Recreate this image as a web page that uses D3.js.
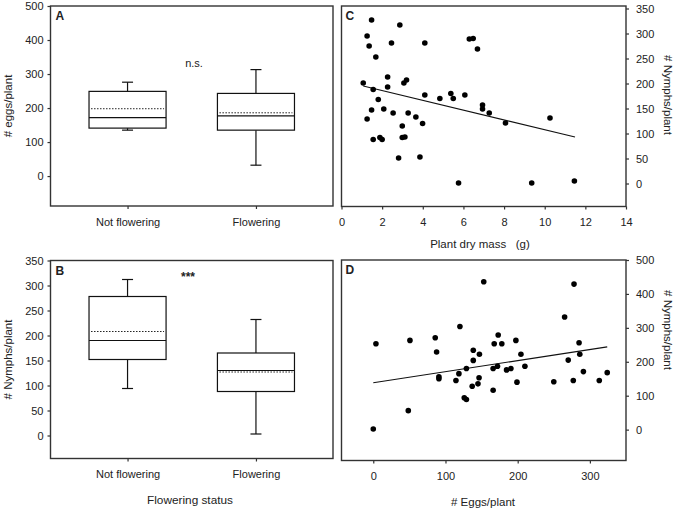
<!DOCTYPE html>
<html><head><meta charset="utf-8">
<script src="https://cdn.jsdelivr.net/npm/d3@7"></script>
<style>
body{margin:0;background:#fff;}
text{font-family:"Liberation Sans",Arial,sans-serif;fill:#222;}
</style></head><body>
<svg id="chart" width="678" height="510"></svg>
<script>
// ---------- data ----------
const categories = ["Not flowering", "Flowering"];
// Panel A: eggs per plant
const eggsWhiskerLow  = [135, 32];
const eggsQ1          = [141, 135];
const eggsMedian      = [172, 177];
const eggsMean        = [198, 186];
const eggsQ3          = [249, 243];
const eggsWhiskerHigh = [276, 313];
// Panel B: nymphs per plant
const nymphWhiskerLow  = [94, 3];
const nymphQ1          = [152, 88];
const nymphMedian      = [190, 130];
const nymphMean        = [208, 127];
const nymphQ3          = [278, 165];
const nymphWhiskerHigh = [312, 232];
// Panel C: plant dry mass (g) vs nymphs/plant
const massX = [1.48,1.26,1.36,2.87,2.46,4.10,1.69,6.29,6.48,6.69,1.07,2.27,2.27,3.07,3.20,1.56,1.81,4.10,4.84,5.38,5.50,6.07,6.94,6.94,7.27,8.07,10.26,1.48,2.08,1.26,2.54,3.28,3.66,2.99,3.99,1.56,1.89,2.00,2.99,3.12,2.81,3.86,5.76,9.36,11.46];
const massNymphs = [327,295,275,317,281,281,253,289,290,269,201,213,193,201,207,188,168,177,170,180,170,177,157,149,141,121,131,147,149,129,141,141,133,115,120,88,92,88,92,93,51,53,1,1,5];
const trendCX = [1.07, 11.49];
const trendCY = [195, 93];
// Panel D: eggs/plant vs nymphs/plant
const eggsX = [0,3.7,50.8,48.5,85.8,87.7,90.9,90.9,120,118.6,114.5,129,138.5,138.5,147,146.5,145,137,126,129,153,167.5,173,178,166,172,166,184.6,190.6,197.5,204.5,210,199,250,265,278,270,285,286,291,277,313,324];
const eggsNymphs = [2,253,263,56,271,229,156,150,304,165,145,180,234,204,222,153,135,128,94,89,436,253,279,253,180,187,116,176,180,263,222,187,140,141,332,429,205,256,222,171,145,145,168];
const trendDX = [0, 324];
const trendDY = [138, 244];
// tick values
const ticksA = [0,100,200,300,400,500];
const ticksB = [0,50,100,150,200,250,300,350];
const ticksCX = [0,2,4,6,8,10,12,14];
const ticksCY = [0,50,100,150,200,250,300,350];
const ticksDX = [0,100,200,300];
const ticksDY = [0,100,200,300,400,500];

// ---------- drawing ----------
const svg = d3.select("#chart");
const frameColor = "#333";

function frame(x0,x1,y0,y1){
  svg.append("rect").attr("x",x0).attr("y",y0).attr("width",x1-x0).attr("height",y1-y0)
    .attr("fill","none").attr("stroke",frameColor).attr("stroke-width",1.4);
}
function styleAxis(g){
  g.select(".domain").remove();
  g.selectAll(".tick line").attr("stroke",frameColor).attr("stroke-width",1.2);
  g.selectAll(".tick text").attr("fill","#222").style("font-size","11px")
    .style("font-family","'Liberation Sans',Arial,sans-serif");
}

function boxPanel(cfg){
  const {x0,x1,y0,y1,ydom,ticks,low,q1,med,mean,q3,high,letter,ylabel} = cfg;
  const x = d3.scaleLinear().domain([0.4,2.6]).range([x0,x1]);
  const y = d3.scaleLinear().domain(ydom).range([y1,y0]);
  frame(x0,x1,y0,y1);
  svg.append("g").attr("transform",`translate(${x0},0)`)
    .call(d3.axisLeft(y).tickValues(ticks).tickSize(3).tickPadding(4)).call(styleAxis);
  svg.append("g").attr("transform",`translate(0,${y1})`)
    .call(d3.axisBottom(x).tickValues([1,2]).tickFormat((d,i)=>categories[i]).tickSize(3).tickPadding(9))
    .call(styleAxis);
  const g = svg.append("g");
  categories.forEach((c,i)=>{
    const cx = x(i+1), hw = x(1.3)-x(1), cap = 5.5;
    g.append("line").attr("x1",cx).attr("x2",cx).attr("y1",y(q3[i])).attr("y2",y(high[i])).attr("stroke","#111").attr("stroke-width",1.2);
    g.append("line").attr("x1",cx).attr("x2",cx).attr("y1",y(q1[i])).attr("y2",y(low[i])).attr("stroke","#111").attr("stroke-width",1.2);
    g.append("line").attr("x1",cx-cap).attr("x2",cx+cap).attr("y1",y(high[i])).attr("y2",y(high[i])).attr("stroke","#111").attr("stroke-width",1.2);
    g.append("line").attr("x1",cx-cap).attr("x2",cx+cap).attr("y1",y(low[i])).attr("y2",y(low[i])).attr("stroke","#111").attr("stroke-width",1.2);
    g.append("rect").attr("x",cx-hw).attr("width",2*hw).attr("y",y(q3[i])).attr("height",y(q1[i])-y(q3[i]))
      .attr("fill","#fff").attr("stroke","#111").attr("stroke-width",1.2);
    g.append("line").attr("x1",cx-hw).attr("x2",cx+hw).attr("y1",y(med[i])).attr("y2",y(med[i])).attr("stroke","#111").attr("stroke-width",1.2);
    g.append("line").attr("x1",cx-hw+2).attr("x2",cx+hw-2).attr("y1",y(mean[i])).attr("y2",y(mean[i]))
      .attr("stroke","#222").attr("stroke-width",1).attr("stroke-dasharray","1.5,1.5");
  });
  svg.append("text").attr("x",x0+5).attr("y",y0+14).style("font-size","12px").style("font-weight","bold").text(letter);
  svg.append("text").attr("transform",`translate(12,${(y0+y1)/2}) rotate(-90)`).attr("text-anchor","middle")
    .style("font-size","11.5px").text(ylabel);
  return {x,y};
}

boxPanel({x0:50.5,x1:333,y0:6,y1:206,ydom:[-88,500],ticks:ticksA,
  low:eggsWhiskerLow,q1:eggsQ1,med:eggsMedian,mean:eggsMean,q3:eggsQ3,high:eggsWhiskerHigh,letter:"A",ylabel:"# eggs/plant"});
svg.append("text").attr("x",194).attr("y",67).attr("text-anchor","middle").style("font-size","11px").text("n.s.");

boxPanel({x0:50.5,x1:333,y0:260.5,y1:458.5,ydom:[-46,350],ticks:ticksB,
  low:nymphWhiskerLow,q1:nymphQ1,med:nymphMedian,mean:nymphMean,q3:nymphQ3,high:nymphWhiskerHigh,letter:"B",ylabel:"# Nymphs/plant"});
svg.append("text").attr("x",188).attr("y",281).attr("text-anchor","middle").style("font-size","12px").style("font-weight","bold").text("***");
svg.append("text").attr("x",190).attr("y",504).attr("text-anchor","middle").style("font-size","11.8px").text("Flowering status");

function scatterPanel(cfg){
  const {x0,x1,y0,y1,xdom,ydom,xt,yt,xs,ys,tx,ty,letter,xlabel,xlabelX,xlabelY,ylabelY} = cfg;
  const x = d3.scaleLinear().domain(xdom).range([x0,x1]);
  const y = d3.scaleLinear().domain(ydom).range([y1,y0]);
  frame(x0,x1,y0,y1);
  svg.append("g").attr("transform",`translate(${x1},0)`)
    .call(d3.axisRight(y).tickValues(yt).tickSize(3).tickPadding(7)).call(styleAxis);
  svg.append("g").attr("transform",`translate(0,${y1})`)
    .call(d3.axisBottom(x).tickValues(xt).tickSize(3).tickPadding(9)).call(styleAxis);
  svg.append("line").attr("x1",x(tx[0])).attr("x2",x(tx[1])).attr("y1",y(ty[0])).attr("y2",y(ty[1]))
    .attr("stroke","#111").attr("stroke-width",1.1);
  svg.append("g").selectAll("circle").data(xs).join("circle")
    .attr("cx",d=>x(d)).attr("cy",(d,i)=>y(ys[i])).attr("r",2.8).attr("fill","#000");
  svg.append("text").attr("x",x0+4).attr("y",y0+14).style("font-size","12px").style("font-weight","bold").text(letter);
  svg.append("text").attr("x",xlabelX).attr("y",xlabelY).attr("text-anchor","middle")
    .style("font-size","11.5px").style("white-space","pre").attr("xml:space","preserve").text(xlabel);
  svg.append("text").attr("transform",`translate(664,${ylabelY}) rotate(90)`).attr("text-anchor","middle")
    .style("font-size","11.5px").text("# Nymphs/plant");
}

scatterPanel({x0:341.5,x1:626,y0:6,y1:206.5,xdom:[0,14],ydom:[-46,355],xt:ticksCX,yt:ticksCY,
  xs:massX,ys:massNymphs,tx:trendCX,ty:trendCY,letter:"C",xlabel:"Plant dry mass   (g)",xlabelX:480,xlabelY:248,ylabelY:95});
scatterPanel({x0:341.5,x1:626,y0:260,y1:460.5,xdom:[-44,350],ydom:[-91,500],xt:ticksDX,yt:ticksDY,
  xs:eggsX,ys:eggsNymphs,tx:trendDX,ty:trendDY,letter:"D",xlabel:"# Eggs/plant",xlabelX:483,xlabelY:506,ylabelY:330});
</script>
</body></html>
